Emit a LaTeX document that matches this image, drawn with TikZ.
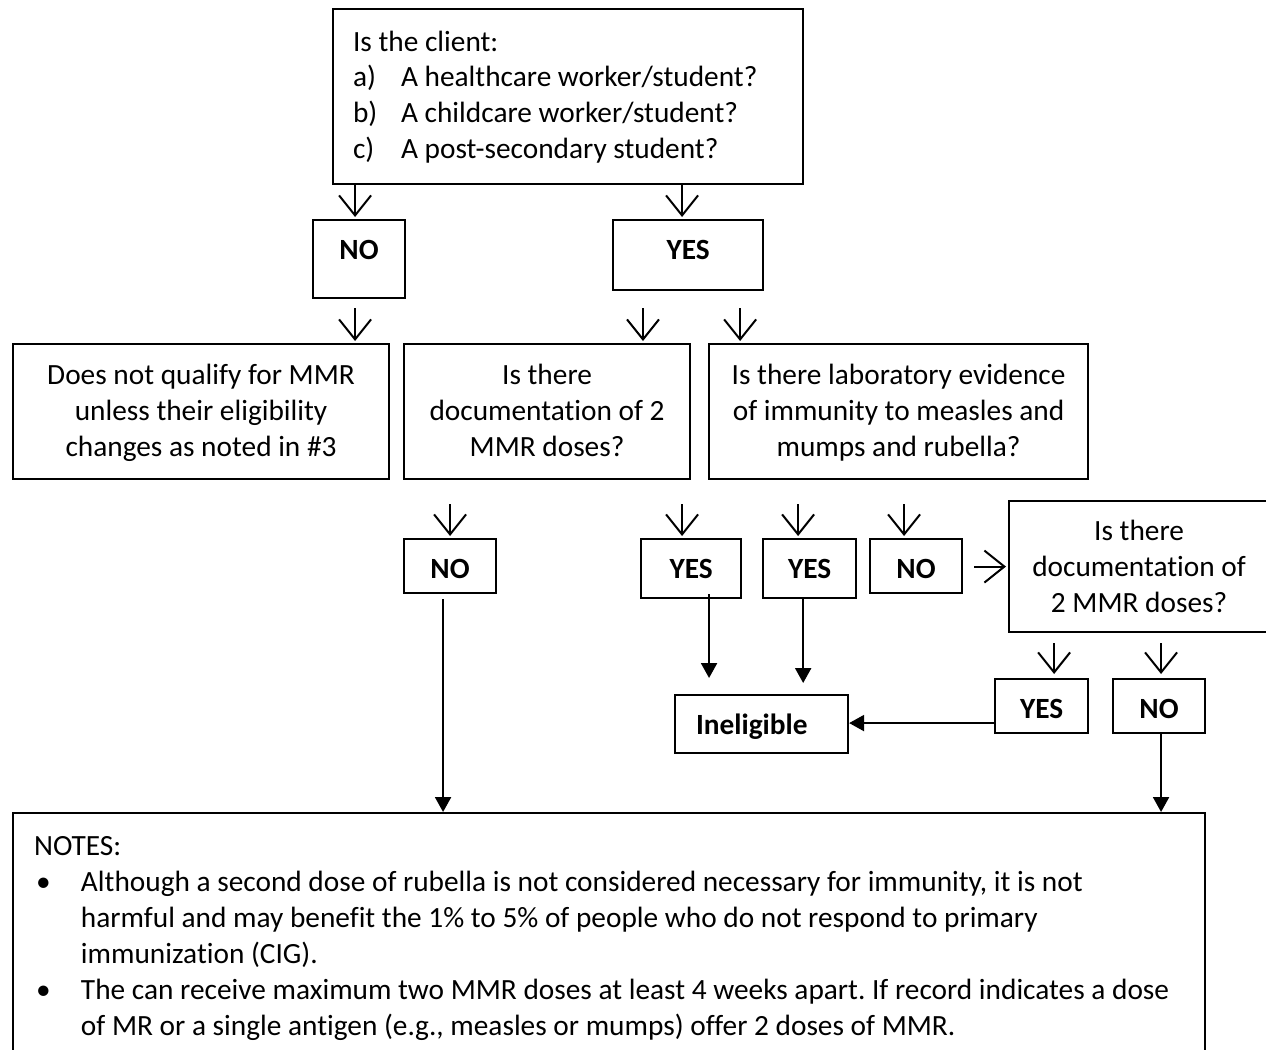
\documentclass[tikz,border=0pt]{standalone}
\usepackage{fontspec}
\setmainfont{Carlito}[Ligatures=NoCommon]
\usetikzlibrary{arrows.meta}
\tikzset{
  box/.style={draw, line width=0.8pt, anchor=north west, inner sep=0pt, align=center, font=\fontsize{11}{13.5}\selectfont, execute at begin node={\frenchspacing\spaceskip=.2266em\relax}},
  yn/.style={box, font=\fontsize{11}{13.5}\selectfont\bfseries},
  chev/.style={-{Straight Barb[length=7.5pt,width=12pt]}, line width=0.75pt, shorten >=0.75pt},
  link/.style={-{Triangle[length=5.6pt,width=6pt]}, line width=0.75pt}
}
\begin{document}
\begin{tikzpicture}[x=0.375pt, y=-0.375pt]
\useasboundingbox (0,0) rectangle (1266,1050);
\clip (0,0) rectangle (1266,1050);
\node[box, align=left, inner xsep=7.5pt, text width=161.25pt, text height=15.75pt, text depth=49.875pt] (client) at (332,8) {Is the client:\\[-0.4pt]\makebox[18pt][l]{a)}A healthcare worker/student?\\\makebox[18pt][l]{b)}A childcare worker/student?\\\makebox[18pt][l]{c)}A post-secondary student?};
\node[yn, text width=34.5pt, text height=14.625pt, text depth=14.625pt] (no1) at (312,219) {NO};
\node[yn, text width=56.25pt, text height=14.625pt, text depth=11.625pt] (yes1) at (612,219) {YES};
\node[box, text width=141pt, text height=15pt, text depth=35.625pt] (notq) at (12,343) {Does not qualify for MMR\\unless their eligibility\\changes as noted in \#3};
\node[box, text width=107.25pt, text height=15pt, text depth=35.625pt] (doc) at (403,343) {Is there\\documentation of 2\\MMR doses?};
\node[box, text width=142.125pt, text height=15pt, text depth=35.625pt] (lab) at (708,343) {Is there laboratory evidence\\of immunity to measles and\\mumps and rubella?};
\node[yn, text width=34.5pt, text height=14.625pt, text depth=5.625pt] (no2) at (403,538) {NO};
\node[yn, text width=37.5pt, text height=14.625pt, text depth=7.5pt] (yes2) at (640,538) {YES};
\node[yn, text width=34.875pt, text height=14.625pt, text depth=7.5pt] (yes3) at (762,538) {YES};
\node[yn, text width=34.5pt, text height=14.625pt, text depth=5.625pt] (no3) at (869,538) {NO};
\node[box, text width=97.5pt, text height=14.625pt, text depth=34.5pt] (doc2) at (1008,500) {Is there\\documentation of\\2 MMR doses?};
\node[yn, text width=34.875pt, text height=14.625pt, text depth=5.625pt] (yes4) at (994,678) {YES};
\node[yn, text width=34.5pt, text height=14.625pt, text depth=5.625pt] (no4) at (1112,678) {NO};
\node[yn, align=left, inner xsep=7.875pt, text width=49.125pt, text height=14.625pt, text depth=7.125pt] (inel) at (674,694) {Ineligible};
\node[box, align=left, inner xsep=7.875pt, text width=431.25pt, text height=15.75pt, text depth=150pt] (notes) at (12,812) {NOTES:\\\makebox[17.6pt][l]{\hspace{0.8pt}\textbullet}Although a second dose of rubella is not considered necessary for immunity, it is not\\\hspace*{17.6pt}harmful and may benefit the 1\% to 5\% of people who do not respond to primary\\\hspace*{17.6pt}immunization (CIG).\\\makebox[17.6pt][l]{\hspace{0.8pt}\textbullet}The can receive maximum two MMR doses at least 4 weeks apart. If record indicates a dose\\\hspace*{17.6pt}of MR or a single antigen (e.g., measles or mumps) offer 2 doses of MMR.};
\draw[chev] ([xshift=-1.5pt]no1.north |- client.south) -- ([xshift=-1.5pt]no1.north);
\draw[chev] ([xshift=-2.25pt]yes1.north |- client.south) -- ([xshift=-2.25pt]yes1.north);
\draw[chev, shorten <=3.375pt] ([xshift=-1.5pt]no1.south) -- ([xshift=-1.5pt]no1.south |- notq.north);
\draw[chev, shorten <=6.375pt] ([xshift=11.625pt]yes1.south west) -- ([xshift=11.625pt]yes1.south west |- doc.north);
\draw[chev, shorten <=6.375pt] ([xshift=-9pt]yes1.south east) -- ([xshift=-9pt]yes1.south east |- lab.north);
\draw[chev, shorten <=9pt] (no2.north |- doc.south) -- (no2.north);
\draw[chev, shorten <=9pt] ([xshift=-3.375pt]yes2.north |- doc.south) -- ([xshift=-3.375pt]yes2.north);
\draw[chev, shorten <=9pt] ([xshift=-4.3pt]yes3.north |- lab.south) -- ([xshift=-4.3pt]yes3.north);
\draw[chev, shorten <=9pt] ([xshift=-4.5pt]no3.north |- lab.south) -- ([xshift=-4.5pt]no3.north);
\draw[chev, shorten <=4.125pt] (no3.east |- doc2.west) -- (doc2.west);
\draw[chev, shorten <=3.75pt, shorten >=1.5pt] ([xshift=4.7pt]yes4.north |- doc2.south) -- ([xshift=4.7pt]yes4.north);
\draw[chev, shorten <=3.75pt, shorten >=1.5pt] ([xshift=0.75pt]no4.north |- doc2.south) -- ([xshift=0.75pt]no4.north);
\draw[link, shorten <=-1.875pt, shorten >=6pt] ([xshift=6.75pt]yes2.south) -- ([xshift=6.75pt]yes2.south |- inel.north);
\draw[link, shorten >=4.125pt] ([xshift=-2.4pt]yes3.south) -- ([xshift=-2.4pt]yes3.south |- inel.north);
\draw[link] ([yshift=-6.375pt]yes4.west) -- ([yshift=-6.375pt]yes4.west -| inel.east);
\draw[link, shorten <=1.875pt] ([xshift=-2.625pt]no2.south) -- ([xshift=-2.625pt]no2.south |- notes.north);
\draw[link] ([xshift=0.75pt]no4.south) -- ([xshift=0.75pt]no4.south |- notes.north);
\end{tikzpicture}
\end{document}
